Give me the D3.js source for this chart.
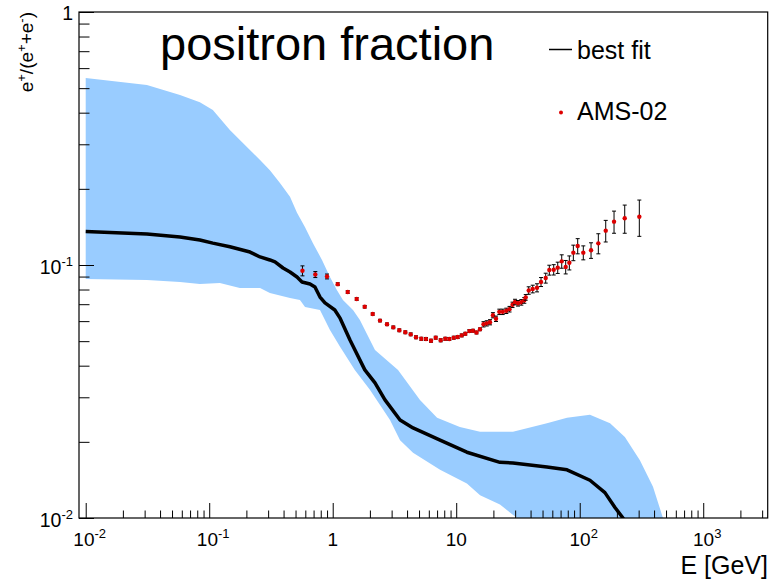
<!DOCTYPE html>
<html>
<head>
<meta charset="utf-8">
<script src="https://cdn.jsdelivr.net/npm/d3@7"></script>
<style>
  body { margin: 0; background: #fff; }
  svg { display: block; font-family: "Liberation Sans", Arial, Helvetica, sans-serif; }
</style>
</head>
<body>
<div id="chart"></div>
<script>
// AMS-02 positron fraction points
const amsEnergy = [0.569, 0.723, 0.899, 1.098, 1.323, 1.564, 1.816, 2.108, 2.415, 2.753,
  3.095, 3.462, 3.872, 4.281, 4.726, 5.216, 5.693, 6.252, 6.823, 7.489,
  8.158, 8.794, 9.546, 10.28, 11.08, 11.85, 12.77, 13.68, 14.60, 15.58,
  16.64, 17.66, 18.78, 19.83, 21.0, 22.34, 23.79, 25.45, 27.02, 28.57,
  29.93, 31.65, 33.67, 35.60, 36.55, 38.64, 41.63, 45.11, 48.6, 53.04,
  56.73, 61.57, 66.36, 71.5, 77.0, 82.4, 88.8, 96.3, 106.9, 123.5,
  141.5, 162.4, 189.6, 231.4, 303.8];
const amsFraction = [0.0949, 0.0917, 0.0901, 0.0840, 0.0782, 0.0734, 0.0684, 0.0640, 0.0603, 0.0583,
  0.0567, 0.0552, 0.0542, 0.0532, 0.0518, 0.0511, 0.0510, 0.0502, 0.0516, 0.0504,
  0.0511, 0.0510, 0.0516, 0.0519, 0.0527, 0.0535, 0.0548, 0.0550, 0.0541, 0.0557,
  0.0583, 0.0588, 0.0594, 0.0633, 0.0613, 0.0653, 0.0653, 0.0659, 0.0669, 0.0696,
  0.0714, 0.0706, 0.0712, 0.0725, 0.0745, 0.0793, 0.0804, 0.0813, 0.0857, 0.0888,
  0.0955, 0.0958, 0.0976, 0.1034, 0.0982, 0.1021, 0.1119, 0.1189, 0.1119, 0.1143,
  0.1218, 0.1367, 0.1484, 0.1530, 0.1552];
const amsError = [0.0043, 0.0025, 0.0020, 0.0011, 0.0010, 0.0009, 0.0008, 0.0007, 0.0007, 0.0007,
  0.0007, 0.0007, 0.0007, 0.0007, 0.0007, 0.0007, 0.0007, 0.0007, 0.0007, 0.0007,
  0.0007, 0.0007, 0.0007, 0.0007, 0.0007, 0.0007, 0.0007, 0.0007, 0.0007, 0.0007,
  0.0014, 0.0014, 0.0014, 0.0015, 0.0015, 0.0016, 0.0016, 0.0016, 0.0017, 0.0017,
  0.0018, 0.0018, 0.0018, 0.0019, 0.0019, 0.0027, 0.0028, 0.0030, 0.0035, 0.0040,
  0.0043, 0.0045, 0.0050, 0.0063, 0.0060, 0.0065, 0.0079, 0.0082, 0.0071, 0.0081,
  0.0111, 0.0134, 0.0149, 0.0195, 0.0254];

// best fit curve
const fitEnergy = [0.01, 0.0313, 0.058, 0.084, 0.107, 0.147, 0.214, 0.258, 0.310, 0.341,
  0.396, 0.451, 0.514, 0.564, 0.655, 0.718, 0.789, 0.866, 1.04, 1.15,
  1.38, 1.82, 2.20, 2.65, 3.51, 4.47, 7.4, 12.2, 22.6, 28.8,
  54.3, 78.9, 121, 160, 193, 224, 260];
const fitFraction = [0.1355, 0.1327, 0.129, 0.1255, 0.122, 0.118, 0.1125, 0.1076, 0.1047, 0.1028,
  0.0973, 0.0938, 0.0897, 0.0857, 0.0841, 0.0818, 0.0747, 0.0708, 0.0664, 0.0615,
  0.0505, 0.0385, 0.0342, 0.0293, 0.0244, 0.0227, 0.0203, 0.0182, 0.0166, 0.0165,
  0.0159, 0.0155, 0.0141, 0.0126, 0.0110, 0.0100, 0.0088];

// uncertainty band edges
const bandUpperE = [0.01, 0.0313, 0.058, 0.084, 0.107, 0.147, 0.202, 0.258, 0.310, 0.374,
  0.451, 0.514, 0.597, 0.692, 0.819, 0.95, 1.08, 1.21, 1.46, 1.66,
  2.20, 3.38, 5.09, 7.0, 10.7, 15.6, 28.8, 54.3, 78.9, 121,
  176, 232, 307, 392, 472, 560];
const bandUpperF = [0.548, 0.515, 0.470, 0.440, 0.410, 0.342, 0.293, 0.260, 0.237, 0.211,
  0.186, 0.161, 0.141, 0.122, 0.1047, 0.0897, 0.0796, 0.0728, 0.0664, 0.0606,
  0.0461, 0.0385, 0.0293, 0.0249, 0.0229, 0.0219, 0.0219, 0.0237, 0.0249, 0.0256,
  0.0237, 0.0209, 0.0169, 0.0133, 0.0100, 0.0080];
const bandLowerE = [0.01, 0.0313, 0.058, 0.084, 0.122, 0.177, 0.258, 0.31, 0.451, 0.543,
  0.597, 0.789, 0.95, 1.15, 1.51, 2.0, 2.91, 3.51, 4.47, 7.4,
  12.2, 15.6, 22.6, 31.1, 45];
const bandLowerF = [0.088, 0.0872, 0.0857, 0.0841, 0.0849, 0.0811, 0.0811, 0.0775, 0.0741, 0.0728,
  0.0683, 0.0664, 0.0553, 0.0474, 0.0385, 0.0321, 0.0244, 0.0203, 0.0181, 0.0155,
  0.0137, 0.0123, 0.0113, 0.0100, 0.0085];

const xMajor = [0.01, 0.1, 1, 10, 100, 1000];
const xLabels = [['10', '-2'], ['10', '-1'], ['1', ''], ['10', ''], ['10', '2'], ['10', '3']];
const yMajor = [0.01, 0.1, 1];
const yLabels = [['10', '-2'], ['10', '-1'], ['1', '']];

const W = 771, H = 579;
const plot = { left: 79, right: 767.7, top: 12, bottom: 518 };

const svg = d3.select('#chart').append('svg')
  .attr('width', W)
  .attr('height', H);

const x = d3.scaleLog().domain([0.008825, 3327]).range([plot.left, plot.right]);
const y = d3.scaleLog().domain([0.01, 1]).range([plot.bottom, plot.top]);

svg.append('clipPath').attr('id', 'clip')
  .append('rect')
  .attr('x', plot.left).attr('y', plot.top)
  .attr('width', plot.right - plot.left).attr('height', plot.bottom - plot.top);

const g = svg.append('g').attr('clip-path', 'url(#clip)');

// band polygon: upper edge left->right, lower edge right->left
const bandPts = bandUpperE.map((e, i) => [e, bandUpperF[i]])
  .concat(bandLowerE.map((e, i) => [e, bandLowerF[i]]).reverse());
g.append('path')
  .datum(bandPts)
  .attr('fill', '#99ccff')
  .attr('stroke', 'none')
  .attr('d', d3.line().x(d => x(d[0])).y(d => y(d[1])).curve(d3.curveLinearClosed));

g.append('path')
  .datum(fitEnergy.map((e, i) => [e, fitFraction[i]]))
  .attr('fill', 'none')
  .attr('stroke', '#000')
  .attr('stroke-width', 3.5)
  .attr('stroke-linejoin', 'round')
  .attr('d', d3.line().x(d => x(d[0])).y(d => y(d[1])));

// data points with error bars
const pts = g.selectAll('.pt')
  .data(amsEnergy.map((e, i) => ({ e, f: amsFraction[i], err: amsError[i] })))
  .enter().append('g').attr('class', 'pt');
pts.append('line')
  .attr('x1', d => x(d.e)).attr('x2', d => x(d.e))
  .attr('y1', d => y(d.f + d.err)).attr('y2', d => y(d.f - d.err))
  .attr('stroke', '#000').attr('stroke-width', 1);
pts.append('line')
  .attr('x1', d => x(d.e) - 2).attr('x2', d => x(d.e) + 2)
  .attr('y1', d => y(d.f + d.err)).attr('y2', d => y(d.f + d.err))
  .attr('stroke', '#000').attr('stroke-width', 1);
pts.append('line')
  .attr('x1', d => x(d.e) - 2).attr('x2', d => x(d.e) + 2)
  .attr('y1', d => y(d.f - d.err)).attr('y2', d => y(d.f - d.err))
  .attr('stroke', '#000').attr('stroke-width', 1);
pts.append('circle')
  .attr('cx', d => x(d.e)).attr('cy', d => y(d.f))
  .attr('r', 2.2)
  .attr('fill', '#dd0000');

// axes ticks (inside the frame)
const xMinor = [];
for (let p = -2; p <= 3; p++) for (let k = 2; k <= 9; k++) {
  const v = k * Math.pow(10, p);
  if (v < 3327) xMinor.push(v);
}
const yMinor = [];
for (let p = -2; p <= -1; p++) for (let k = 2; k <= 9; k++) yMinor.push(k * Math.pow(10, p));

svg.append('g')
  .attr('transform', `translate(0,${plot.bottom})`)
  .call(d3.axisBottom(x).tickValues(xMajor).tickSize(-15).tickFormat(''))
  .call(a => a.select('.domain').remove());
svg.append('g')
  .attr('transform', `translate(0,${plot.bottom})`)
  .call(d3.axisBottom(x).tickValues(xMinor).tickSize(-7.5).tickFormat(''))
  .call(a => a.select('.domain').remove());
svg.append('g')
  .attr('transform', `translate(${plot.left},0)`)
  .call(d3.axisLeft(y).tickValues(yMajor).tickSize(-15).tickFormat(''))
  .call(a => a.select('.domain').remove());
svg.append('g')
  .attr('transform', `translate(${plot.left},0)`)
  .call(d3.axisLeft(y).tickValues(yMinor).tickSize(-10.5).tickFormat(''))
  .call(a => a.select('.domain').remove());
svg.selectAll('.tick line').attr('stroke', '#000').attr('stroke-width', 1);

// frame
svg.append('rect')
  .attr('x', plot.left).attr('y', plot.top)
  .attr('width', plot.right - plot.left).attr('height', plot.bottom - plot.top)
  .attr('fill', 'none').attr('stroke', '#000').attr('stroke-width', 1.2);

// tick labels with superscripts
function powLabel(sel, parts) {
  sel.append('tspan').text(parts[0]);
  if (parts[1]) sel.append('tspan').attr('dy', -8).attr('font-size', 13).text(parts[1]);
}
xMajor.forEach((v, i) => {
  const t = svg.append('text')
    .attr('x', x(v) + (xLabels[i][1] ? 4 : 0)).attr('y', 546)
    .attr('text-anchor', 'middle').attr('font-size', 19);
  powLabel(t, xLabels[i]);
});
yMajor.forEach((v, i) => {
  const t = svg.append('text')
    .attr('x', 73).attr('y', y(v) + (v === 1 ? 8 : 9))
    .attr('text-anchor', 'end').attr('font-size', 19.5);
  powLabel(t, yLabels[i]);
});

// axis titles
svg.append('text')
  .attr('x', 768).attr('y', 574)
  .attr('text-anchor', 'end').attr('font-size', 25)
  .text('E [GeV]');

const yt = svg.append('text')
  .attr('transform', 'translate(33,12) rotate(-90)')
  .attr('text-anchor', 'end').attr('font-size', 19);
yt.append('tspan').text('e');
yt.append('tspan').attr('dy', -7).attr('font-size', 13).text('+');
yt.append('tspan').attr('dy', 7).text('/(e');
yt.append('tspan').attr('dy', -7).attr('font-size', 13).text('+');
yt.append('tspan').attr('dy', 7).text('+e');
yt.append('tspan').attr('dy', -7).attr('font-size', 13).text('-');
yt.append('tspan').attr('dy', 7).text(')');

// title
svg.append('text')
  .attr('x', 160).attr('y', 60)
  .attr('font-size', 47)
  .text('positron fraction');

// legend
svg.append('line')
  .attr('x1', 549).attr('x2', 572).attr('y1', 49.5).attr('y2', 49.5)
  .attr('stroke', '#000').attr('stroke-width', 1.5);
svg.append('text')
  .attr('x', 577).attr('y', 59).attr('font-size', 25)
  .text('best fit');
svg.append('circle')
  .attr('cx', 561).attr('cy', 112.5).attr('r', 2)
  .attr('fill', '#dd0000');
svg.append('text')
  .attr('x', 577).attr('y', 120).attr('font-size', 25)
  .text('AMS-02');
</script>
</body>
</html>
